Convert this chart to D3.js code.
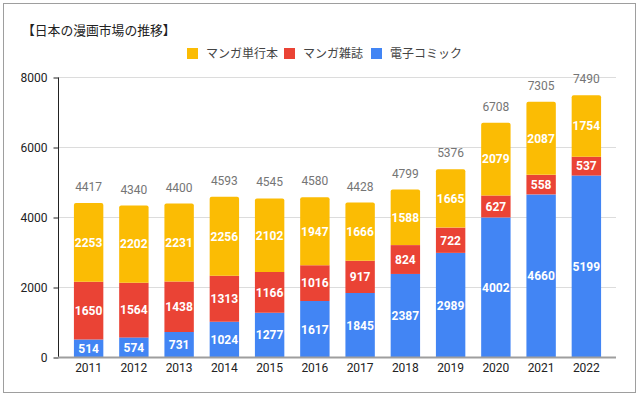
<!DOCTYPE html>
<html>
<head>
<meta charset="utf-8">
<script src="https://cdn.jsdelivr.net/npm/d3@7"></script>
<style>
  body { margin: 0; background: #fff; }
  text { font-family: Roboto, "Noto Sans CJK JP", sans-serif; }
</style>
</head>
<body>
<div id="chart"></div>
<script>
// data
var years = ["2011","2012","2013","2014","2015","2016","2017","2018","2019","2020","2021","2022"];
var digital  = [514, 574, 731, 1024, 1277, 1617, 1845, 2387, 2989, 4002, 4660, 5199];
var magazine = [1650, 1564, 1438, 1313, 1166, 1016, 917, 824, 722, 627, 558, 537];
var books    = [2253, 2202, 2231, 2256, 2102, 1947, 1666, 1588, 1665, 2079, 2087, 1754];
var totals   = [4417, 4340, 4400, 4593, 4545, 4580, 4428, 4799, 5376, 6708, 7305, 7490];
var seriesNames = ["マンガ単行本", "マンガ雑誌", "電子コミック"];
var yTicks = [0, 2000, 4000, 6000, 8000];

var width = 640, height = 398;
var colors = {digital: "#4285F4", magazine: "#EA4335", books: "#FBBC04"};

var svg = d3.select("#chart").append("svg")
  .attr("width", width)
  .attr("height", height);

// outer frame
svg.append("rect")
  .attr("x", 3.5).attr("y", 3.5)
  .attr("width", 632).attr("height", 389)
  .attr("fill", "#fff")
  .attr("stroke", "#9e9e9e");

var x = d3.scaleBand()
  .domain(years)
  .range([66, 609])
  .paddingInner(0.35)
  .paddingOuter(0.175);

var y = d3.scaleLinear()
  .domain([0, 8000])
  .range([357.5, 77.5]);

// gridlines
svg.append("g").selectAll("line").data(yTicks.slice(1))
  .enter().append("line")
  .attr("x1", 58).attr("x2", 616)
  .attr("y1", function(d) { return y(d); })
  .attr("y2", function(d) { return y(d); })
  .attr("stroke", "#dcdcdc");

// y axis
var yAxis = d3.axisLeft(y).tickValues(yTicks).tickSize(5).tickPadding(6).tickFormat(d3.format("d"));
var gy = svg.append("g")
  .attr("transform", "translate(58.5,0)")
  .call(yAxis);
gy.select(".domain").attr("stroke", "#222").attr("d", "M0," + y(8000) + "V" + y(0));
gy.selectAll(".tick line").attr("stroke", "#222");
gy.selectAll(".tick text").attr("fill", "#222").style("font-size", "12px")
  .style("font-family", "Roboto, sans-serif");

// stacked bars
var stackData = years.map(function(yr, i) {
  return {year: yr, digital: digital[i], magazine: magazine[i], books: books[i]};
});
var stack = d3.stack().keys(["digital", "magazine", "books"]);
var layers = stack(stackData);

var bw = x.bandwidth();
layers.forEach(function(layer) {
  var g = svg.append("g");
  g.selectAll("path").data(layer)
    .enter().append("path")
    .attr("fill", colors[layer.key])
    .attr("d", function(d) {
      var x0 = x(d.data.year), y0 = y(d[0]), y1 = y(d[1]);
      if (layer.key === "books") {
        var r = 2;
        return "M" + x0 + "," + y0 + "V" + (y1 + r) +
          "Q" + x0 + "," + y1 + " " + (x0 + r) + "," + y1 +
          "H" + (x0 + bw - r) +
          "Q" + (x0 + bw) + "," + y1 + " " + (x0 + bw) + "," + (y1 + r) +
          "V" + y0 + "Z";
      }
      return "M" + x0 + "," + y0 + "V" + y1 + "H" + (x0 + bw) + "V" + y0 + "Z";
    });
  g.selectAll("text").data(layer)
    .enter().append("text")
    .attr("x", function(d) { return x(d.data.year) + bw / 2; })
    .attr("y", function(d) { return (y(d[0]) + y(d[1])) / 2; })
    .attr("dy", "0.36em")
    .attr("text-anchor", "middle")
    .attr("fill", "#fff")
    .style("font-size", "12px")
    .style("font-weight", "bold")
    .text(function(d) { return d[1] - d[0]; });
});

// baseline
svg.append("line")
  .attr("x1", 58).attr("x2", 616)
  .attr("y1", y(0)).attr("y2", y(0))
  .attr("stroke", "#9e9e9e")
  .attr("stroke-width", 2);

// totals above bars
svg.append("g").selectAll("text").data(totals)
  .enter().append("text")
  .attr("x", function(d, i) { return x(years[i]) + bw / 2; })
  .attr("y", function(d) { return y(d) - 12; })
  .attr("text-anchor", "middle")
  .attr("fill", "#757575")
  .style("font-size", "12px")
  .text(function(d) { return d; });

// x axis labels
svg.append("g").selectAll("text").data(years)
  .enter().append("text")
  .attr("x", function(d) { return x(d) + bw / 2; })
  .attr("y", 372)
  .attr("text-anchor", "middle")
  .attr("fill", "#222")
  .style("font-size", "12px")
  .text(function(d) { return d; });

// title
svg.append("text")
  .attr("x", 22).attr("y", 35)
  .attr("fill", "#222")
  .style("font-size", "12.8px")
  .text("【日本の漫画市場の推移】");

// legend
var legendX = [187, 284, 371];
var legendColors = [colors.books, colors.magazine, colors.digital];
var legend = svg.append("g").selectAll("g").data(seriesNames)
  .enter().append("g")
  .attr("transform", function(d, i) { return "translate(" + legendX[i] + ",48)"; });
legend.append("rect")
  .attr("width", 11).attr("height", 11)
  .attr("fill", function(d, i) { return legendColors[i]; });
legend.append("text")
  .attr("x", 19).attr("y", 10)
  .attr("fill", "#444")
  .style("font-size", "12px")
  .text(function(d) { return d; });
</script>
</body>
</html>
